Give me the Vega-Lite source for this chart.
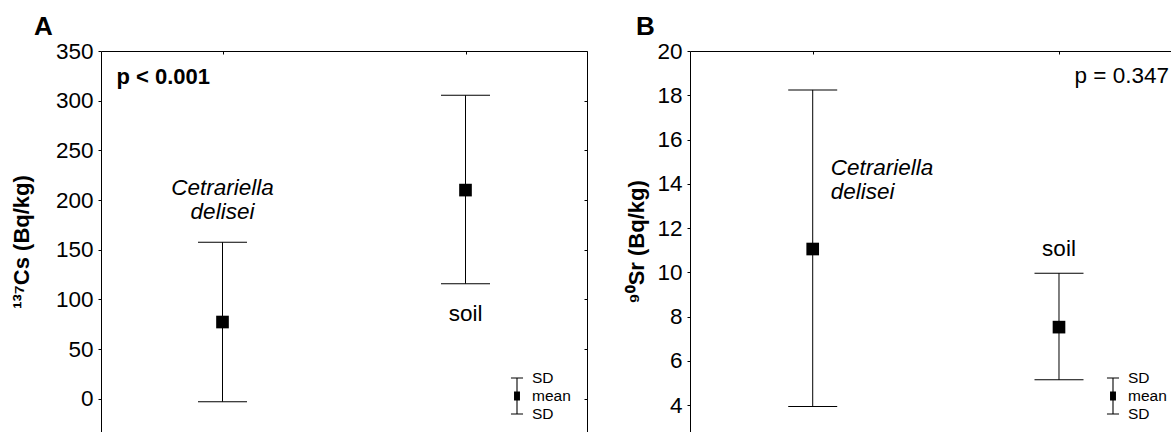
{
  "$schema": "https://vega.github.io/schema/vega-lite/v6.json",
  "padding": {"left": 10, "top": 14, "right": 0, "bottom": 0},
  "background": "white",
  "spacing": 37,
  "config": {
    "font": "Liberation Sans",
    "view": {"stroke": null},
    "axis": {"grid": false, "domainColor": "black", "tickColor": "black", "labelColor": "black", "titleColor": "black", "domainWidth": 1, "tickWidth": 1, "labelFont": "Liberation Sans", "titleFont": "Liberation Sans"},
    "legend": {"labelFont": "Liberation Sans", "labelColor": "black"},
    "title": {"font": "Liberation Sans", "color": "black"}
  },
  "datasets": {
    "rad": [
      {"panel": "A", "sample": "Cetrariella delisei", "mean": 77.2, "lower": -3.0, "upper": 157.5},
      {"panel": "A", "sample": "soil", "mean": 210.0, "lower": 115.8, "upper": 305.4},
      {"panel": "B", "sample": "Cetrariella delisei", "mean": 11.05, "lower": 3.93, "upper": 18.24},
      {"panel": "B", "sample": "soil", "mean": 7.52, "lower": 5.14, "upper": 9.96}
    ],
    "tests": [
      {"panel": "A", "p": "p < 0.001"},
      {"panel": "B", "p": "p = 0.347"}
    ]
  },
  "resolve": {"scale": {"x": "independent", "y": "independent", "shape": "independent"}, "legend": {"shape": "independent"}},
  "hconcat": [
    {
      "title": {"text": "A", "anchor": "start", "frame": "group", "dx": -67, "fontSize": 26, "fontWeight": "bold", "offset": 0},
      "width": 486,
      "height": 381,
      "data": {"name": "rad"},
      "transform": [{"filter": "datum.panel == 'A'"}],
      "encoding": {
        "x": {"field": "sample", "type": "nominal", "sort": null,
          "scale": {"type": "point", "domain": ["Cetrariella delisei", "soil"], "padding": 0.5, "align": 0.5},
          "axis": {"orient": "top", "labels": false, "title": null, "ticks": true, "tickSize": -3, "domain": true}}
      },
      "layer": [
        {
          "mark": {"type": "rule", "color": "black", "strokeWidth": 1},
          "encoding": {
            "y": {"field": "lower", "type": "quantitative",
              "scale": {"domain": [-33.5, 350], "nice": false, "zero": false},
              "axis": {"orient": "left", "values": [0, 50, 100, 150, 200, 250, 300, 350], "title": "¹³⁷Cs (Bq/kg)", "titleFontSize": 22, "titleFontWeight": "bold", "titlePadding": 22, "labelFontSize": 22.5, "tickSize": 3, "labelPadding": 5, "labelFlush": false, "labelOverlap": false}},
            "y2": {"field": "upper"}
          }
        },
        {
          "mark": {"type": "tick", "color": "black", "size": 49, "thickness": 1, "orient": "horizontal", "opacity": 1},
          "encoding": {"y": {"field": "upper", "type": "quantitative", "axis": null}}
        },
        {
          "mark": {"type": "tick", "color": "black", "size": 49, "thickness": 1, "orient": "horizontal", "opacity": 1},
          "encoding": {"y": {"field": "lower", "type": "quantitative",
            "axis": {"orient": "right", "labels": false, "title": null, "values": [0, 50, 100, 150, 200, 250, 300, 350], "tickSize": -3, "domain": true}}}
        },
        {
          "mark": {"type": "square", "size": 160, "color": "black", "filled": true, "opacity": 1},
          "encoding": {"y": {"field": "mean", "type": "quantitative", "axis": null}}
        },
        {
          "transform": [{"filter": "datum.sample == 'Cetrariella delisei'"}],
          "mark": {"type": "text", "fontSize": 22.5, "fontStyle": "italic", "align": "center", "baseline": "alphabetic", "lineBreak": " ", "lineHeight": 24, "dy": -47, "color": "black"},
          "encoding": {"y": {"field": "upper", "type": "quantitative", "axis": null}, "text": {"field": "sample"}}
        },
        {
          "transform": [{"filter": "datum.sample == 'soil'"}],
          "mark": {"type": "text", "fontSize": 22.5, "align": "center", "baseline": "alphabetic", "dy": 37, "color": "black"},
          "encoding": {"y": {"field": "lower", "type": "quantitative", "axis": null}, "text": {"field": "sample"}}
        },
        {
          "data": {"name": "tests"},
          "transform": [{"filter": "datum.panel == 'A'"}],
          "mark": {"type": "text", "fontSize": 22, "fontWeight": "bold", "align": "left", "baseline": "alphabetic", "dx": -106, "dy": 32.5, "color": "black"},
          "encoding": {
            "x": {"datum": "Cetrariella delisei", "type": "nominal"},
            "y": {"datum": 350, "type": "quantitative", "axis": null},
            "text": {"field": "p"}
          }
        },
        {
          "transform": [{"filter": "false"}],
          "mark": {"type": "point", "filled": true, "color": "black", "strokeWidth": 0, "opacity": 1},
          "encoding": {
            "y": {"field": "mean", "type": "quantitative", "axis": null},
            "shape": {"datum": "mean",
              "scale": {"domain": ["SD+", "mean", "SD-"], "range": ["M-0.67,-0.06H0.67V0.06H-0.67ZM-0.06,0H0.06V1H-0.06Z", "M-0.06,-1H0.06V1H-0.06ZM-0.33,-0.5H0.33V0.5H-0.33Z", "M-0.06,-1H0.06V0H-0.06ZM-0.67,-0.06H0.67V0.06H-0.67Z"]},
              "legend": {"title": null, "orient": "none", "legendX": 407, "legendY": 318, "symbolSize": 324, "labelFontSize": 15.5, "labelOffset": 6, "rowPadding": -8, "padding": 0, "labelExpr": "datum.label == 'mean' ? 'mean' : 'SD'", "symbolStrokeWidth": 0, "symbolFillColor": "black", "symbolOpacity": 1}}
          }
        }
      ],
      "resolve": {"axis": {"y": "independent"}}
    },
    {
      "title": {"text": "B", "anchor": "start", "frame": "group", "dx": -54, "fontSize": 26, "fontWeight": "bold", "offset": 0},
      "width": 481,
      "height": 381,
      "data": {"name": "rad"},
      "transform": [{"filter": "datum.panel == 'B'"}],
      "encoding": {
        "x": {"field": "sample", "type": "nominal", "sort": null,
          "scale": {"type": "point", "domain": ["Cetrariella delisei", "soil"], "padding": 0.4765, "align": 0.5228},
          "axis": {"orient": "top", "labels": false, "title": null, "ticks": true, "tickSize": -3, "domain": true}}
      },
      "layer": [
        {
          "mark": {"type": "rule", "color": "black", "strokeWidth": 1},
          "encoding": {
            "y": {"field": "lower", "type": "quantitative",
              "scale": {"domain": [2.78, 20], "nice": false, "zero": false},
              "axis": {"orient": "left", "values": [4, 6, 8, 10, 12, 14, 16, 18, 20], "title": "⁹⁰Sr (Bq/kg)", "titleFontSize": 22, "titleFontWeight": "bold", "titlePadding": 8, "labelFontSize": 22.5, "tickSize": 3, "labelPadding": 5, "labelFlush": false, "labelOverlap": false}},
            "y2": {"field": "upper"}
          }
        },
        {
          "mark": {"type": "tick", "color": "black", "size": 49, "thickness": 1, "orient": "horizontal", "opacity": 1},
          "encoding": {"y": {"field": "upper", "type": "quantitative", "axis": null}}
        },
        {
          "mark": {"type": "tick", "color": "black", "size": 49, "thickness": 1, "orient": "horizontal", "opacity": 1},
          "encoding": {"y": {"field": "lower", "type": "quantitative", "axis": null}}
        },
        {
          "mark": {"type": "square", "size": 160, "color": "black", "filled": true, "opacity": 1},
          "encoding": {"y": {"field": "mean", "type": "quantitative", "axis": null}}
        },
        {
          "transform": [{"filter": "datum.sample == 'Cetrariella delisei'"}],
          "mark": {"type": "text", "fontSize": 22.5, "fontStyle": "italic", "align": "left", "baseline": "alphabetic", "lineBreak": " ", "lineHeight": 24, "dx": 18, "dy": -74, "color": "black"},
          "encoding": {"y": {"field": "mean", "type": "quantitative", "axis": null}, "text": {"field": "sample"}}
        },
        {
          "transform": [{"filter": "datum.sample == 'soil'"}],
          "mark": {"type": "text", "fontSize": 22.5, "align": "center", "baseline": "alphabetic", "dy": -17, "color": "black"},
          "encoding": {"y": {"field": "upper", "type": "quantitative", "axis": null}, "text": {"field": "sample"}}
        },
        {
          "data": {"name": "tests"},
          "transform": [{"filter": "datum.panel == 'B'"}],
          "mark": {"type": "text", "fontSize": 22.5, "align": "right", "baseline": "alphabetic", "dx": 110, "dy": 32, "color": "black"},
          "encoding": {
            "x": {"datum": "soil", "type": "nominal"},
            "y": {"datum": 20, "type": "quantitative", "axis": null},
            "text": {"field": "p"}
          }
        },
        {
          "transform": [{"filter": "false"}],
          "mark": {"type": "point", "filled": true, "color": "black", "strokeWidth": 0, "opacity": 1},
          "encoding": {
            "y": {"field": "mean", "type": "quantitative", "axis": null},
            "shape": {"datum": "mean",
              "scale": {"domain": ["SD+", "mean", "SD-"], "range": ["M-0.67,-0.06H0.67V0.06H-0.67ZM-0.06,0H0.06V1H-0.06Z", "M-0.06,-1H0.06V1H-0.06ZM-0.33,-0.5H0.33V0.5H-0.33Z", "M-0.06,-1H0.06V0H-0.06ZM-0.67,-0.06H0.67V0.06H-0.67Z"]},
              "legend": {"title": null, "orient": "none", "legendX": 414, "legendY": 318, "symbolSize": 324, "labelFontSize": 15.5, "labelOffset": 6, "rowPadding": -8, "padding": 0, "labelExpr": "datum.label == 'mean' ? 'mean' : 'SD'", "symbolStrokeWidth": 0, "symbolFillColor": "black", "symbolOpacity": 1}}
          }
        }
      ],
      "resolve": {"axis": {"y": "independent"}}
    }
  ]
}
